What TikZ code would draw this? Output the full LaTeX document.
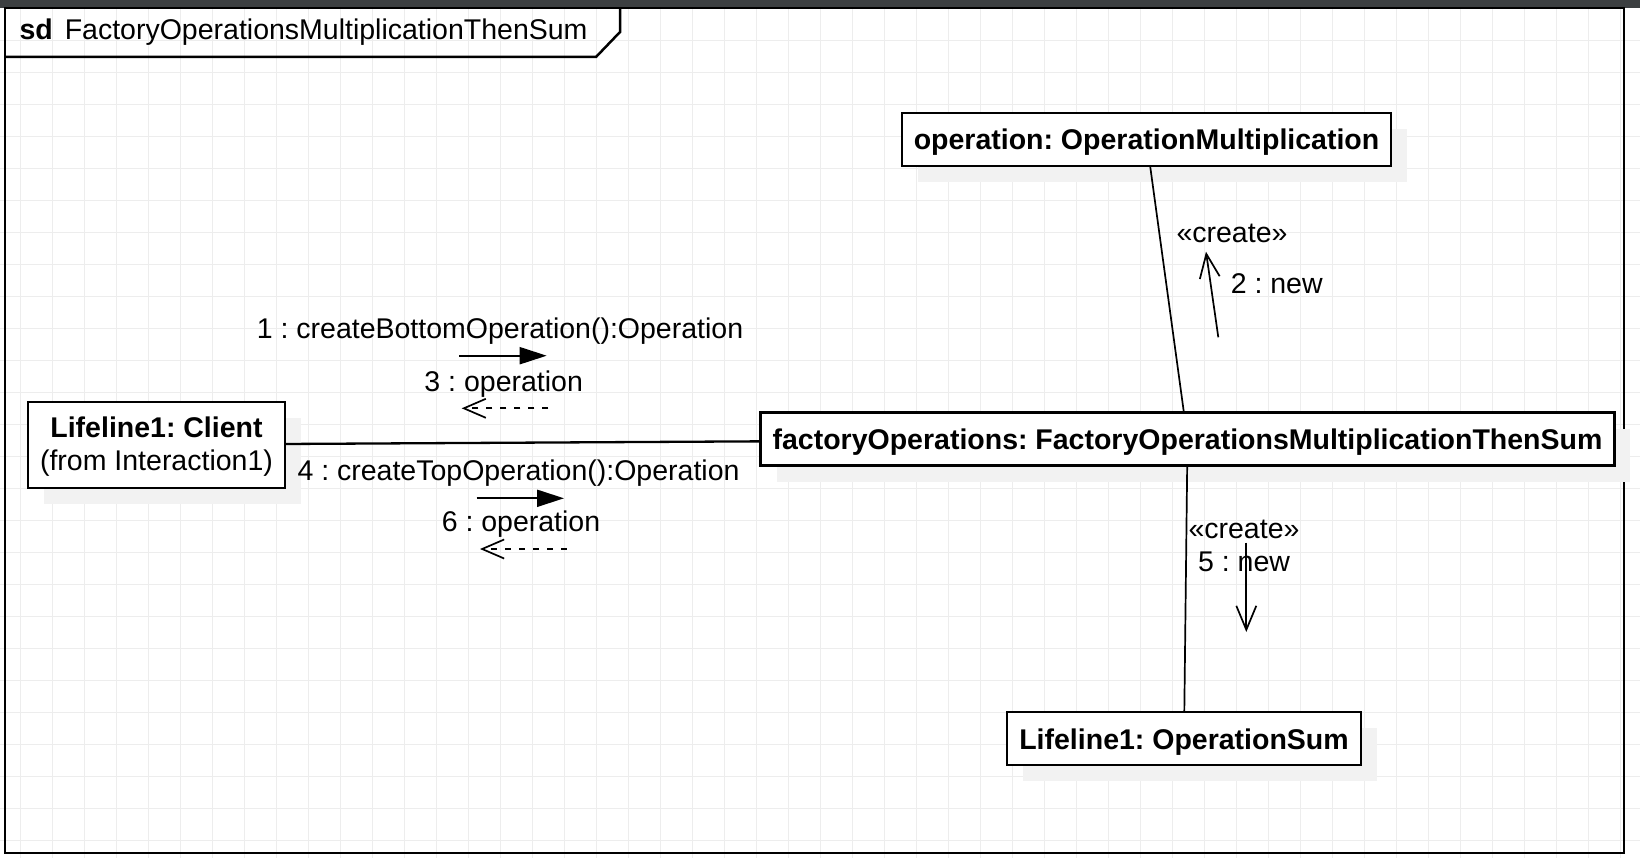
\documentclass[tikz,border=0pt]{standalone}
\usepackage{fontspec}
\setmainfont{Liberation Sans}
\usetikzlibrary{arrows.meta,shadows}
\definecolor{topbar}{HTML}{3C3F41}
\definecolor{gridgray}{HTML}{EDEDED}
\definecolor{shadowgray}{HTML}{F2F2F2}
\frenchspacing
\begin{document}
\begin{tikzpicture}[x=1pt, y=-1pt,
    font=\fontsize{28.5pt}{33.4pt}\selectfont,
    gridline/.style={gridgray, line width=1pt},
    frameline/.style={line width=2.5pt},
    lifeline/.style={draw, line width=2.3pt, fill=white, inner xsep=12pt, inner ysep=0pt,
        drop shadow={shadow xshift=16pt, shadow yshift=-16pt, fill=shadowgray, opacity=1}},
    oneline/.style={minimum height=53pt, text height=21pt, text depth=0pt, font=\fontsize{28.5pt}{33.4pt}\selectfont\bfseries},
    link/.style={line width=1.7pt},
    call/.style={line width=2pt, -{Triangle[length=27pt, width=17pt]}},
    reply/.style={line width=1.7pt, dash pattern=on 6pt off 8pt, -{Straight Barb[length=22pt, width=19pt]}},
    create/.style={line width=1.7pt, -{Straight Barb[length=24pt, width=20pt]}},
    msg/.style={anchor=base}]
    \useasboundingbox (0,0) rectangle (1640,858);
    \fill[white] (0,0) rectangle (1640,858);
    \foreach \k in {0,...,50} \draw[gridline] (20.7+32*\k,8) -- (20.7+32*\k,858);
    \foreach \k in {1,...,26} \draw[gridline] (0,8.5+32*\k) -- (1640,8.5+32*\k);
    \fill[topbar] (0,0) rectangle (1640,8);
    \draw[frameline] (5,8) rectangle (1624,853);
    \draw[frameline] (5,57) -- (596,57) -- (620,32) -- (620,8);
    \node[anchor=base west] (title) at (16,40) {\textbf{sd}\hspace{12pt}FactoryOperationsMultiplicationThenSum};

    \node[lifeline, oneline] (opmult) at (1146.5,139.5) {operation: OperationMultiplication};
    \node[lifeline, oneline] (factory) at (1187.5,439) {factoryOperations: FactoryOperationsMultiplicationThenSum};
    \node[lifeline, oneline] (opsum) at (1184,738.5) {Lifeline1: OperationSum};
    \node[lifeline, minimum height=86pt, text height=58pt, text depth=6pt, align=center] (client) at (156.5,444.7) {\textbf{Lifeline1: Client}\\(from Interaction1)};

    \draw[link, line width=2.3pt] (client) -- (factory);
    \draw[link] (opmult) -- (factory);
    \draw[link] (factory) -- (opsum);

    % messages client -> factory
    \node[msg] (lbl1) at (500,338) {1 : createBottomOperation():Operation};
    \node[msg] (lbl3) at (503.7,391.7) {3 : operation};
    \node[msg] (lbl4) at (518.5,480) {4 : createTopOperation():Operation};
    \node[msg] (lbl6) at (521,531.7) {6 : operation};
    \coordinate (m1a) at (459,355.7);
    \coordinate (m1b) at (546.7,355.7);
    \coordinate (m3a) at (548.3,408.3);
    \coordinate (m3b) at (461.7,408.3);
    \coordinate (m4a) at (476.7,498.3);
    \coordinate (m4b) at (564,498.3);
    \coordinate (m6a) at (566.7,549);
    \coordinate (m6b) at (480,549);
    \draw[call] (m1a) -- (m1b);
    \draw[reply] (m3a) -- (m3b);
    \draw[call] (m4a) -- (m4b);
    \draw[reply] (m6a) -- (m6b);

    % creation messages
    \node[msg] (cr2) at (1232,242.7) {«create»};
    \node[msg] (lbl2) at (1276.7,293.3) {2 : new};
    \node[msg] (cr5) at (1244,538.3) {«create»};
    \node[msg] (lbl5) at (1244,571.7) {5 : new};
    \coordinate (m2a) at (1218.3,337.3);
    \coordinate (m2b) at (1206,251.7);
    \coordinate (m5a) at (1246.3,542.7);
    \coordinate (m5b) at (1246.3,632);
    \draw[create] (m2a) -- (m2b);
    \draw[create] (m5a) -- (m5b);
\end{tikzpicture}
\end{document}
